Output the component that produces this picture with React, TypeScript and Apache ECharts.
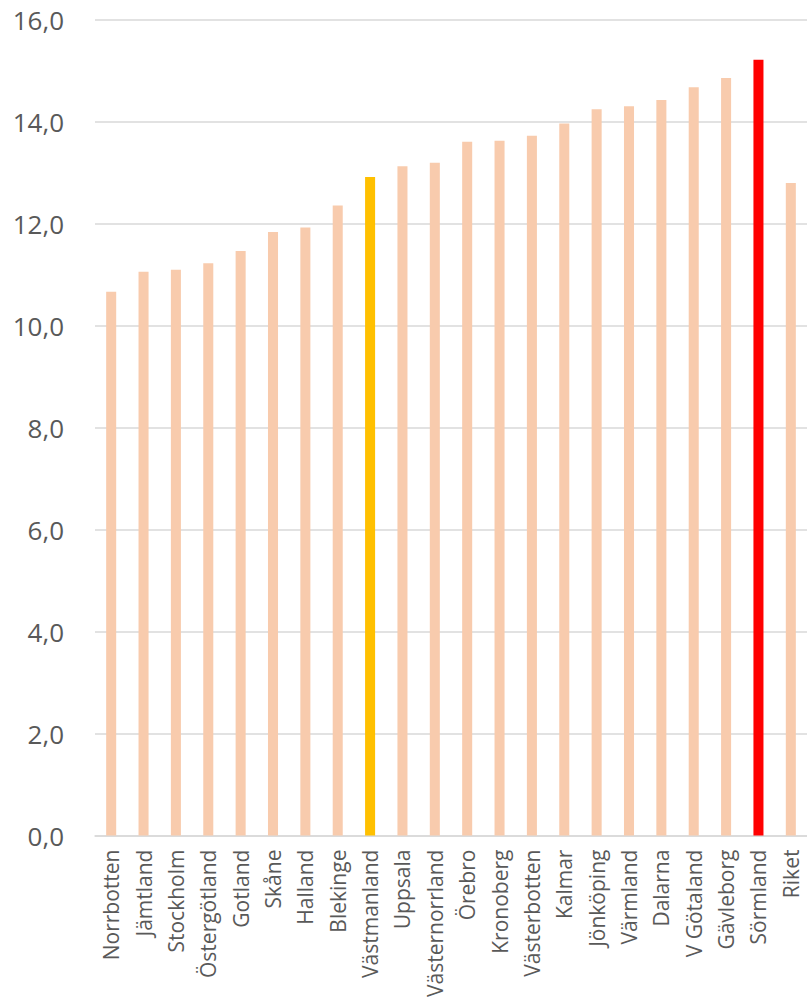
import React, { useEffect, useRef } from "react";
import * as echarts from "echarts";

const categories = [
  "Norrbotten", "Jämtland", "Stockholm", "Östergötland", "Gotland", "Skåne", "Halland",
  "Blekinge", "Västmanland", "Uppsala", "Västernorrland", "Örebro", "Kronoberg",
  "Västerbotten", "Kalmar", "Jönköping", "Värmland", "Dalarna", "V Götaland",
  "Gävleborg", "Sörmland", "Riket",
];
const values = [
  10.67, 11.06, 11.1, 11.23, 11.47, 11.84, 11.93, 12.36, 12.92, 13.13, 13.2, 13.61,
  13.63, 13.73, 13.97, 14.25, 14.31, 14.43, 14.68, 14.86, 15.22, 12.8,
];
const highlightYellow = ["Västmanland"];
const highlightRed = ["Sörmland"];

export default function App() {
  const ref = useRef<HTMLDivElement>(null);
  useEffect(() => {
    if (!ref.current) return;
    const chart = echarts.init(ref.current, null, { renderer: "svg" });
    const font = "'Open Sans', sans-serif";
    chart.setOption({
      animation: false,
      grid: { left: 95, right: 0, top: 20, bottom: 164 },
      xAxis: {
        type: "category",
        data: categories,
        axisLine: { lineStyle: { color: "#d9d9d9", width: 1.5 } },
        axisTick: { show: false },
        axisLabel: {
          rotate: 90,
          interval: 0,
          margin: 14,
          color: "#595959",
          fontSize: 21,
          fontFamily: font,
        },
      },
      yAxis: {
        type: "value",
        min: 0,
        max: 16,
        interval: 2,
        axisLine: { show: false },
        axisTick: { show: false },
        splitLine: { lineStyle: { color: "#d9d9d9", width: 1.5 } },
        axisLabel: {
          margin: 31,
          color: "#595959",
          fontSize: 26,
          fontFamily: font,
          formatter: (v: number) => v.toFixed(1).replace(".", ","),
        },
      },
      series: [
        {
          type: "bar",
          barWidth: "31%",
          data: values.map((v, i) => {
            const c = categories[i];
            let color = "#F8CBAD";
            if (highlightYellow.includes(c)) color = "#FFC000";
            if (highlightRed.includes(c)) color = "#FF0000";
            return { value: v, itemStyle: { color } };
          }),
        },
      ],
    });
    return () => chart.dispose();
  }, []);
  return (
    <div
      ref={ref}
      style={{ position: "absolute", left: 0, top: 0, width: 807, height: 1000 }}
    />
  );
}
